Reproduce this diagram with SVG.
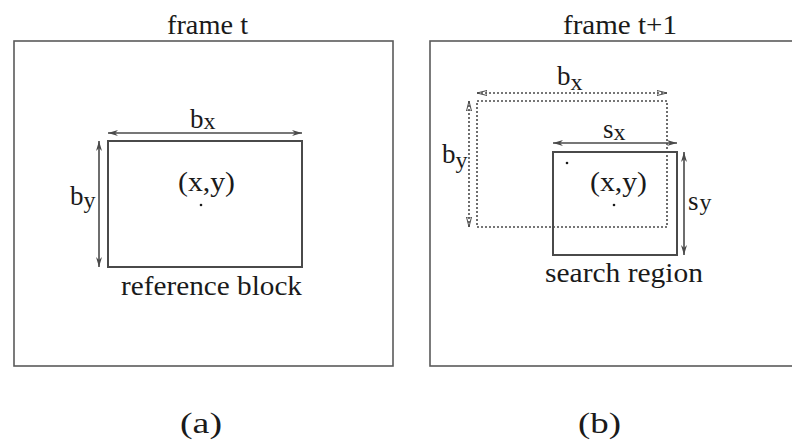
<svg xmlns="http://www.w3.org/2000/svg" width="792" height="444" viewBox="0 0 792 444">
  <style>
    text { font-family: 'Times New Roman', Tinos, 'Noto Serif', 'Nimbus Roman', 'Nimbus Roman No9 L', FreeSerif, 'Liberation Serif', 'DejaVu Serif', Times, serif; fill: #1a1a1a; }
    .lbl { font-size: 27px; }
    .frame { fill: none; stroke: #5a5a5a; stroke-width: 1.6; }
    .block { fill: none; stroke: #4a4a4a; stroke-width: 2; }
    .dotted { fill: none; stroke: #4a4a4a; stroke-width: 1.6; stroke-dasharray: 2 2; }
    .dim { stroke: #4a4a4a; stroke-width: 1.6; fill: none; marker-start: url(#tip); marker-end: url(#tip); }
    .dimdot { stroke: #4a4a4a; stroke-width: 1.6; fill: none; stroke-dasharray: 2 2; marker-start: url(#tipOpen); marker-end: url(#tipOpen); }
    .dot { fill: #1a1a1a; }
  </style>
  <defs>
    <marker id="tip" viewBox="0 0 10 6" refX="10" refY="3" markerWidth="10" markerHeight="6" markerUnits="userSpaceOnUse" orient="auto-start-reverse">
      <path d="M0,0 L10,3 L0,6 L3,3 Z" fill="#4a4a4a"/>
    </marker>
    <marker id="tipOpen" viewBox="0 0 10 6" refX="10" refY="3" markerWidth="10" markerHeight="6" markerUnits="userSpaceOnUse" orient="auto-start-reverse">
      <path d="M0,0.5 L10,3 L0,5.5 Z" fill="none" stroke="#4a4a4a" stroke-width="1"/>
    </marker>
  </defs>

  <!-- (a) frame t with the reference block -->
  <g id="frame-t">
    <rect class="frame" x="14" y="41" width="379" height="325"/>
    <text class="lbl" x="167" y="34" textLength="81" lengthAdjust="spacingAndGlyphs">frame t</text>
  </g>
  <g id="reference-block">
    <rect class="block" x="108" y="141" width="194" height="126"/>
    <text class="lbl" x="178" y="191" textLength="57" lengthAdjust="spacingAndGlyphs">(x,y)</text>
    <circle class="dot" cx="201" cy="205" r="1.3"/>
    <text class="lbl" x="121" y="295" textLength="181" lengthAdjust="spacingAndGlyphs">reference block</text>
  </g>

  <!-- (b) frame t+1 with the displaced block and search region -->
  <g id="frame-t1">
    <rect class="frame" x="430" y="41" width="380" height="325"/>
    <text class="lbl" x="563" y="34" textLength="114" lengthAdjust="spacingAndGlyphs">frame t+1</text>
  </g>
  <g id="candidate-block">
    <rect class="dotted" x="477" y="101" width="190" height="126"/>
  </g>
  <g id="search-region">
    <rect class="block" x="553" y="152" width="124" height="103"/>
    <text class="lbl" x="590" y="191" textLength="57" lengthAdjust="spacingAndGlyphs">(x,y)</text>
    <circle class="dot" cx="567" cy="163" r="1.3"/>
    <circle class="dot" cx="614" cy="205" r="1.3"/>
    <text class="lbl" x="545" y="282" textLength="158" lengthAdjust="spacingAndGlyphs">search region</text>
  </g>

  <!-- dimension arrows -->
  <g id="connectors">
    <line class="dim" x1="108" y1="133" x2="302" y2="133"/>
    <line class="dim" x1="99" y1="141" x2="99" y2="267"/>
    <line class="dimdot" x1="477" y1="93" x2="667" y2="93"/>
    <line class="dimdot" x1="469" y1="101" x2="469" y2="227"/>
    <line class="dim" x1="553" y1="143" x2="677" y2="143"/>
    <line class="dim" x1="684" y1="152" x2="684" y2="255"/>
  </g>

  <!-- dimension labels -->
  <g id="dim-labels">
    <text class="lbl" x="190" y="128">b<tspan font-size="24" dy="1">x</tspan></text>
    <text class="lbl" x="70" y="205">b<tspan font-size="24" dy="3">y</tspan></text>
    <text class="lbl" x="557" y="85">b<tspan font-size="24" dy="5">x</tspan></text>
    <text class="lbl" x="442" y="163">b<tspan font-size="24" dy="5">y</tspan></text>
    <text class="lbl" x="603" y="138">s<tspan font-size="24" dy="2">x</tspan></text>
    <text class="lbl" x="688" y="210">s<tspan font-size="24" dx="1">y</tspan></text>
  </g>

  <!-- panel captions -->
  <text id="caption-a" x="180" y="433" font-size="30" textLength="42" lengthAdjust="spacingAndGlyphs">(a)</text>
  <text id="caption-b" x="578" y="433" font-size="30" textLength="43" lengthAdjust="spacingAndGlyphs">(b)</text>
</svg>
